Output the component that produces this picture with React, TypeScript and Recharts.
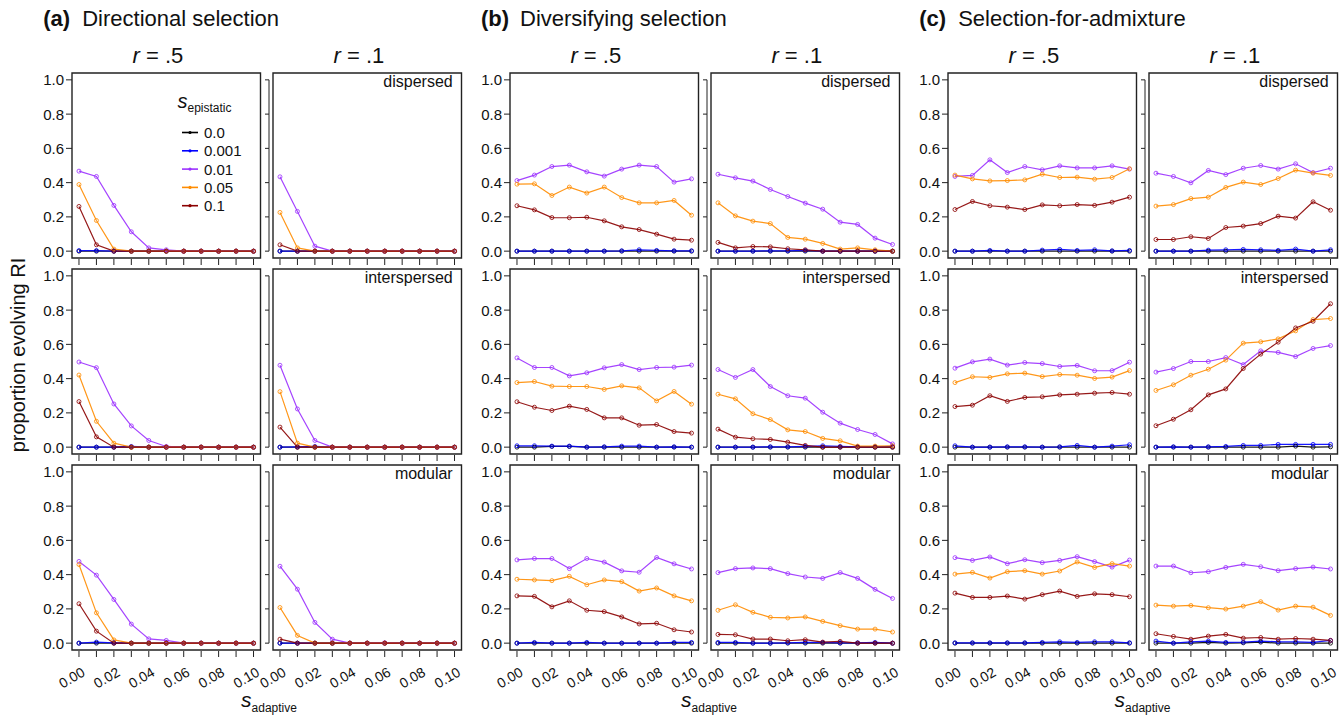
import React from 'react';
import { LineChart, Line, XAxis, YAxis, ReferenceArea } from 'recharts';

// ---------- data ----------
const sAdaptive = [0, 0.01, 0.02, 0.03, 0.04, 0.05, 0.06, 0.07, 0.08, 0.09, 0.1];
const yTicks = [0, 0.2, 0.4, 0.6, 0.8, 1.0];
const sEpistatic = ['0.0', '0.001', '0.01', '0.05', '0.1'];
const seriesColors = ['#000000', '#0000FF', '#9B30FF', '#FF8C00', '#8B0000'];
const groupTitles = [
  { tag: '(a)', text: 'Directional selection' },
  { tag: '(b)', text: 'Diversifying selection' },
  { tag: '(c)', text: 'Selection-for-admixture' },
];
const colHeaders = ['.5', '.1'];
const rowLabels = ['dispersed', 'interspersed', 'modular'];

// each panel: [s_epi 0.0, 0.001, 0.01, 0.05, 0.1]
const dirR5Dispersed = [
  [0, 0, 0, 0, 0, 0, 0, 0, 0, 0, 0],
  [0.003, 0.003, 0, 0, 0, 0, 0, 0, 0, 0, 0],
  [0.467, 0.436, 0.267, 0.113, 0.019, 0.008, 0, 0, 0, 0, 0],
  [0.389, 0.179, 0.012, 0, 0, 0, 0, 0, 0, 0, 0],
  [0.261, 0.037, 0, 0, 0, 0, 0, 0, 0, 0, 0],
];
const dirR1Dispersed = [
  [0, 0, 0, 0, 0, 0, 0, 0, 0, 0, 0],
  [0, 0, 0, 0, 0, 0, 0, 0, 0, 0, 0],
  [0.434, 0.232, 0.029, 0, 0, 0, 0, 0, 0, 0, 0],
  [0.226, 0.019, 0, 0, 0, 0, 0, 0, 0, 0, 0],
  [0.037, 0, 0, 0, 0, 0, 0, 0, 0, 0, 0],
];
const dirR5Interspersed = [
  [0, 0, 0, 0, 0, 0, 0, 0, 0, 0, 0],
  [0, 0, 0, 0.004, 0, 0, 0, 0, 0, 0, 0],
  [0.497, 0.464, 0.252, 0.124, 0.039, 0.004, 0, 0, 0, 0, 0],
  [0.421, 0.151, 0.023, 0, 0, 0, 0, 0, 0, 0, 0],
  [0.266, 0.06, 0, 0, 0, 0, 0, 0, 0, 0, 0],
];
const dirR1Interspersed = [
  [0, 0, 0, 0, 0, 0, 0, 0, 0, 0, 0],
  [0, 0.002, 0.004, 0, 0, 0, 0, 0, 0, 0, 0],
  [0.478, 0.223, 0.039, 0, 0, 0, 0, 0, 0, 0, 0],
  [0.324, 0.023, 0, 0, 0, 0, 0, 0, 0, 0, 0],
  [0.117, 0, 0, 0, 0, 0, 0, 0, 0, 0, 0],
];
const dirR5Modular = [
  [0, 0, 0, 0, 0, 0, 0, 0, 0, 0, 0],
  [0, 0.006, 0.002, 0, 0, 0, 0, 0, 0, 0, 0],
  [0.477, 0.397, 0.255, 0.111, 0.025, 0.016, 0, 0, 0, 0, 0],
  [0.459, 0.177, 0.019, 0, 0, 0, 0, 0, 0, 0, 0],
  [0.23, 0.07, 0, 0, 0, 0, 0, 0, 0, 0, 0],
];
const dirR1Modular = [
  [0, 0, 0, 0, 0, 0, 0, 0, 0, 0, 0],
  [0, 0, 0, 0, 0, 0, 0, 0, 0, 0, 0],
  [0.449, 0.315, 0.121, 0.023, 0, 0, 0.002, 0, 0, 0, 0],
  [0.208, 0.045, 0, 0, 0, 0, 0, 0, 0, 0, 0],
  [0.023, 0, 0, 0, 0, 0, 0, 0, 0, 0, 0],
];
const divR5Dispersed = [
  [0, 0, 0, 0, 0, 0, 0, 0, 0, 0, 0],
  [0, 0, 0, 0, 0, 0, 0.002, 0.008, 0.004, 0.002, 0.002],
  [0.412, 0.444, 0.494, 0.502, 0.463, 0.438, 0.479, 0.502, 0.494, 0.403, 0.422],
  [0.391, 0.393, 0.325, 0.374, 0.339, 0.374, 0.313, 0.282, 0.282, 0.296, 0.21],
  [0.265, 0.241, 0.196, 0.195, 0.198, 0.177, 0.142, 0.126, 0.099, 0.07, 0.064],
];
const divR1Dispersed = [
  [0, 0, 0, 0, 0, 0, 0, 0, 0, 0, 0],
  [0, 0, 0, 0.002, 0.002, 0.004, 0, 0, 0, 0, 0],
  [0.449, 0.428, 0.409, 0.36, 0.319, 0.28, 0.245, 0.169, 0.156, 0.076, 0.039],
  [0.282, 0.206, 0.175, 0.161, 0.08, 0.07, 0.045, 0.012, 0.019, 0.008, 0],
  [0.051, 0.019, 0.027, 0.025, 0.014, 0.008, 0, 0, 0, 0, 0],
];
const divR5Interspersed = [
  [0, 0, 0.004, 0.004, 0, 0, 0, 0, 0, 0, 0],
  [0.008, 0.008, 0.006, 0.006, 0, 0.002, 0.006, 0.006, 0, 0.002, 0],
  [0.521, 0.465, 0.465, 0.416, 0.434, 0.463, 0.482, 0.453, 0.465, 0.467, 0.479],
  [0.377, 0.383, 0.356, 0.354, 0.354, 0.337, 0.358, 0.346, 0.27, 0.325, 0.251],
  [0.265, 0.233, 0.214, 0.239, 0.22, 0.171, 0.171, 0.128, 0.132, 0.091, 0.082],
];
const divR1Interspersed = [
  [0, 0, 0, 0, 0, 0, 0, 0, 0, 0, 0],
  [0, 0, 0, 0.002, 0.002, 0.004, 0.008, 0.004, 0.002, 0.002, 0.004],
  [0.453, 0.407, 0.453, 0.354, 0.3, 0.286, 0.204, 0.14, 0.103, 0.074, 0.019],
  [0.309, 0.282, 0.195, 0.161, 0.101, 0.091, 0.051, 0.037, 0.006, 0.006, 0.008],
  [0.105, 0.058, 0.049, 0.045, 0.029, 0.01, 0, 0, 0, 0, 0],
];
const divR5Modular = [
  [0, 0, 0, 0, 0, 0, 0, 0, 0, 0, 0],
  [0, 0.004, 0, 0, 0.004, 0, 0, 0, 0, 0.004, 0.004],
  [0.486, 0.494, 0.494, 0.435, 0.494, 0.473, 0.422, 0.414, 0.5, 0.463, 0.433],
  [0.373, 0.369, 0.365, 0.39, 0.341, 0.369, 0.359, 0.304, 0.322, 0.276, 0.247],
  [0.276, 0.273, 0.212, 0.247, 0.192, 0.184, 0.153, 0.112, 0.116, 0.078, 0.065],
];
const divR1Modular = [
  [0, 0, 0, 0, 0, 0, 0, 0, 0, 0, 0],
  [0.004, 0.004, 0, 0, 0.002, 0.004, 0.004, 0.002, 0.002, 0.004, 0],
  [0.412, 0.435, 0.439, 0.435, 0.406, 0.386, 0.378, 0.412, 0.378, 0.314, 0.261],
  [0.192, 0.224, 0.18, 0.151, 0.147, 0.153, 0.127, 0.102, 0.082, 0.082, 0.065],
  [0.051, 0.049, 0.024, 0.024, 0.014, 0.02, 0.006, 0.01, 0, 0, 0],
];
const admR5Dispersed = [
  [0, 0, 0, 0, 0, 0, 0, 0, 0, 0, 0],
  [0, 0, 0.004, 0, 0, 0.006, 0.01, 0.004, 0.008, 0.002, 0.004],
  [0.436, 0.442, 0.533, 0.459, 0.494, 0.475, 0.498, 0.486, 0.486, 0.498, 0.479],
  [0.444, 0.422, 0.41, 0.412, 0.416, 0.449, 0.43, 0.432, 0.42, 0.43, 0.481],
  [0.243, 0.29, 0.265, 0.257, 0.243, 0.27, 0.265, 0.272, 0.267, 0.286, 0.315],
];
const admR1Dispersed = [
  [0, 0, 0, 0, 0, 0, 0, 0, 0, 0, 0],
  [0, 0, 0, 0.006, 0.008, 0.01, 0.008, 0.004, 0.012, 0, 0.008],
  [0.455, 0.436, 0.399, 0.471, 0.447, 0.484, 0.5, 0.479, 0.51, 0.459, 0.484],
  [0.263, 0.272, 0.307, 0.315, 0.372, 0.403, 0.389, 0.424, 0.473, 0.455, 0.442],
  [0.068, 0.068, 0.084, 0.074, 0.138, 0.146, 0.161, 0.204, 0.193, 0.288, 0.239],
];
const admR5Interspersed = [
  [0, 0, 0, 0, 0, 0, 0, 0, 0, 0, 0],
  [0.008, 0, 0, 0.002, 0.002, 0, 0.002, 0.01, 0, 0.006, 0.014],
  [0.461, 0.498, 0.514, 0.479, 0.494, 0.488, 0.471, 0.477, 0.446, 0.447, 0.496],
  [0.377, 0.411, 0.407, 0.428, 0.432, 0.412, 0.424, 0.42, 0.401, 0.409, 0.447],
  [0.237, 0.245, 0.3, 0.267, 0.29, 0.294, 0.305, 0.309, 0.315, 0.319, 0.309],
];
const admR1Interspersed = [
  [0, 0, 0, 0, 0, 0, 0, 0, 0.006, 0, 0.002],
  [0, 0.002, 0, 0.002, 0.004, 0.01, 0.01, 0.016, 0.016, 0.016, 0.016],
  [0.438, 0.459, 0.5, 0.5, 0.523, 0.482, 0.562, 0.553, 0.529, 0.576, 0.593],
  [0.331, 0.364, 0.42, 0.455, 0.508, 0.607, 0.615, 0.632, 0.679, 0.745, 0.751],
  [0.125, 0.163, 0.218, 0.305, 0.34, 0.459, 0.543, 0.613, 0.696, 0.735, 0.837],
];
const admR5Modular = [
  [0, 0, 0, 0, 0, 0, 0, 0, 0, 0, 0],
  [0.002, 0.002, 0.002, 0.002, 0.002, 0.004, 0.008, 0.004, 0.008, 0.008, 0.002],
  [0.499, 0.483, 0.503, 0.464, 0.487, 0.47, 0.483, 0.505, 0.476, 0.444, 0.485],
  [0.403, 0.413, 0.38, 0.417, 0.423, 0.403, 0.421, 0.474, 0.442, 0.464, 0.45],
  [0.292, 0.267, 0.267, 0.275, 0.257, 0.283, 0.304, 0.273, 0.288, 0.283, 0.271],
];
const admR1Modular = [
  [0, 0, 0, 0.004, 0, 0.002, 0.006, 0, 0, 0, 0],
  [0.012, 0, 0.008, 0.012, 0.004, 0.006, 0.012, 0.008, 0.008, 0.004, 0.016],
  [0.45, 0.45, 0.411, 0.417, 0.442, 0.46, 0.446, 0.423, 0.435, 0.444, 0.433],
  [0.222, 0.216, 0.22, 0.207, 0.199, 0.216, 0.242, 0.193, 0.216, 0.21, 0.162],
  [0.055, 0.039, 0.023, 0.041, 0.051, 0.029, 0.033, 0.023, 0.027, 0.023, 0.016],
];

// grid of panels: [group][col][row]
const panelData = [
  [[dirR5Dispersed, dirR5Interspersed, dirR5Modular], [dirR1Dispersed, dirR1Interspersed, dirR1Modular]],
  [[divR5Dispersed, divR5Interspersed, divR5Modular], [divR1Dispersed, divR1Interspersed, divR1Modular]],
  [[admR5Dispersed, admR5Interspersed, admR5Modular], [admR1Dispersed, admR1Interspersed, admR1Modular]],
];

// ---------- layout ----------
const FONT = '"Liberation Sans", Arial, Helvetica, sans-serif';
const BW = 188.5;
const BH = 185;
const YW = 40;
const XH = 60;
const MT = 5;
const MR = 8;
const colLefts = [[71.7, 272.7], [509.5, 710.5], [947.7, 1148.7]];
const rowTops = [72.5, 268.6, 464.7];
const X_DOMAIN: [number, number] = [-0.004, 0.104];
const Y_DOMAIN: [number, number] = [-0.04, 1.04];
const Y_STEP_PX = (0.2 / 1.08) * BH;
const AX = '#222';

function YTick(props: any) {
  const { x, y, payload, index, showLabels } = props;
  if (showLabels) {
    return (
      <g>
        <line x1={x - 6} x2={x} y1={y} y2={y} stroke={AX} strokeWidth={1} />
        <text x={x - 8} y={y} dy="0.36em" textAnchor="end" fontSize={15} fill="#111" fontFamily={FONT}>
          {Number(payload.value).toFixed(1)}
        </text>
      </g>
    );
  }
  return (
    <g>
      <line x1={x - 8} x2={x - 4} y1={y} y2={y} stroke={AX} strokeWidth={1} />
      {index > 0 ? <line x1={x - 4} x2={x - 4} y1={y} y2={y + Y_STEP_PX} stroke={AX} strokeWidth={1} /> : null}
    </g>
  );
}

function XTick(props: any) {
  const { x, y, payload, index, showLabels } = props;
  return (
    <g>
      <line x1={x} x2={x} y1={y + 1} y2={y + 7} stroke={AX} strokeWidth={1} />
      {showLabels && index % 2 === 0 ? (
        <text
          transform={`translate(${x + 7},${y + 25}) rotate(-30)`}
          textAnchor="end"
          fontSize={14}
          fill="#111"
          fontFamily={FONT}
        >
          {Number(payload.value).toFixed(2)}
        </text>
      ) : null}
    </g>
  );
}

function Panel({ left, top, series, showY, showX }: any) {
  const data = sAdaptive.map((x, i) => {
    const row: any = { x };
    series.forEach((s: number[], k: number) => {
      row['s' + k] = s[i];
    });
    return row;
  });
  return (
    <div style={{ position: 'absolute', left: left - YW, top: top - MT }}>
      <LineChart
        width={YW + BW + MR}
        height={MT + BH + XH}
        data={data}
        margin={{ top: MT, right: MR, bottom: 0, left: 0 }}
      >
        <XAxis
          dataKey="x"
          type="number"
          domain={X_DOMAIN}
          ticks={sAdaptive}
          interval={0}
          allowDataOverflow
          height={XH}
          tickSize={0}
          tickMargin={0}
          tickLine={false}
          axisLine={false}
          tick={(p: any) => <XTick {...p} showLabels={showX} />}
        />
        <YAxis
          type="number"
          domain={Y_DOMAIN}
          ticks={yTicks}
          interval={0}
          allowDataOverflow
          width={YW}
          tickSize={0}
          tickMargin={0}
          tickLine={false}
          axisLine={false}
          tick={(p: any) => <YTick {...p} showLabels={showY} />}
        />
        <ReferenceArea
          x1={X_DOMAIN[0]}
          x2={X_DOMAIN[1]}
          y1={Y_DOMAIN[0]}
          y2={Y_DOMAIN[1]}
          fill="none"
          fillOpacity={0}
          stroke={AX}
          strokeWidth={1.4}
          ifOverflow="visible"
        />
        {series.map((_: number[], k: number) => (
          <Line
            key={k}
            type="linear"
            dataKey={'s' + k}
            stroke={seriesColors[k]}
            strokeWidth={1.2}
            strokeOpacity={0.9}
            dot={{ r: 2, stroke: seriesColors[k], strokeWidth: 0.9, fill: 'none' }}
            activeDot={false}
            isAnimationActive={false}
          />
        ))}
      </LineChart>
    </div>
  );
}

const sLabelCenters = [269, 709, 1142.5];
const legendYs = [132.5, 150.8, 169.1, 187.4, 205.7];

export default function App() {
  const panels: any[] = [];
  panelData.forEach((grp, g) => {
    grp.forEach((col, c) => {
      col.forEach((series, r) => {
        panels.push(
          <Panel
            key={`${g}-${c}-${r}`}
            left={colLefts[g][c]}
            top={rowTops[r]}
            series={series}
            showY={c === 0}
            showX={r === 2}
          />
        );
      });
    });
  });

  return (
    <div
      style={{
        position: 'absolute',
        left: 0,
        top: 0,
        width: 1343,
        height: 718,
        background: '#fff',
        overflow: 'hidden',
        fontFamily: FONT,
      }}
    >
      {panels}
      <svg
        width={1343}
        height={718}
        style={{ position: 'absolute', left: 0, top: 0, pointerEvents: 'none' }}
        fontFamily={FONT}
      >
        {groupTitles.map((t, g) => (
          <g key={g}>
            <text x={colLefts[g][0] - 28.5} y={26} fontSize={22} fontWeight="bold" fill="#111">
              {t.tag}
            </text>
            <text x={colLefts[g][0] + 10.5} y={26} fontSize={22} fill="#111">
              {t.text}
            </text>
          </g>
        ))}
        {colLefts.map((cols, g) =>
          cols.map((l, c) => (
            <text key={`h${g}${c}`} x={l + BW / 2 - 8} y={63} fontSize={22} textAnchor="middle" fill="#111">
              <tspan fontStyle="italic">r</tspan>
              {' = ' + colHeaders[c]}
            </text>
          ))
        )}
        {colLefts.map((cols, g) =>
          rowTops.map((t, r) => (
            <text
              key={`rl${g}${r}`}
              x={cols[1] + BW - 8.5}
              y={t + 14.5}
              fontSize={16}
              textAnchor="end"
              fill="#111"
            >
              {rowLabels[r]}
            </text>
          ))
        )}
        <text transform="translate(25,355) rotate(-90)" fontSize={20} textAnchor="middle" fill="#111">
          proportion evolving RI
        </text>
        {sLabelCenters.map((cx, g) => (
          <text key={`sa${g}`} x={cx} y={707} textAnchor="middle" fill="#111">
            <tspan fontSize={21} fontStyle="italic">s</tspan>
            <tspan fontSize={12} dy={5}>adaptive</tspan>
          </text>
        ))}
        {/* legend */}
        <text x={177.5} y={108} fill="#111">
          <tspan fontSize={20} fontStyle="italic">s</tspan>
          <tspan fontSize={12} dy={4}>epistatic</tspan>
        </text>
        {sEpistatic.map((lab, k) => (
          <g key={`lg${k}`}>
            <line x1={182} x2={198} y1={legendYs[k]} y2={legendYs[k]} stroke={seriesColors[k]} strokeWidth={1.6} />
            <circle cx={190} cy={legendYs[k]} r={1.6} fill={seriesColors[k]} />
            <text x={204} y={legendYs[k]} dy="0.36em" fontSize={15} fill="#111">
              {lab}
            </text>
          </g>
        ))}
      </svg>
    </div>
  );
}
